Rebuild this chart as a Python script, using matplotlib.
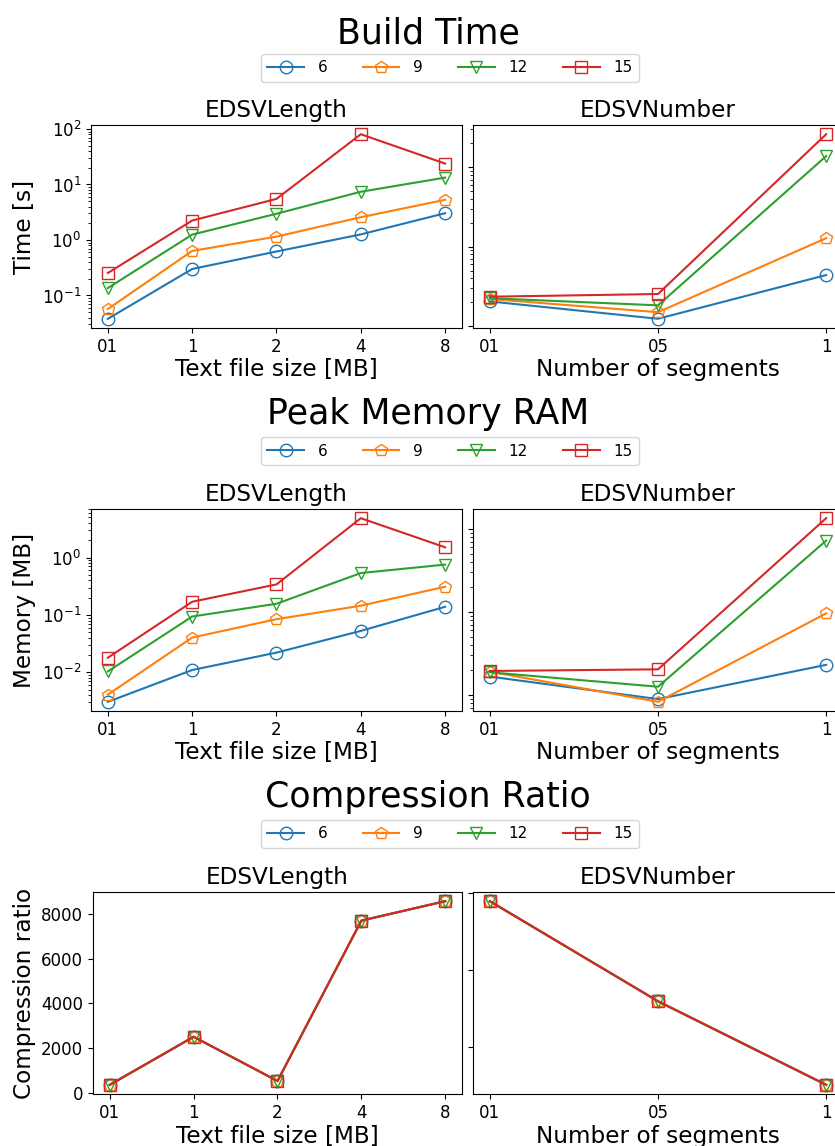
import numpy as np
import matplotlib
matplotlib.use("Agg")
import matplotlib.pyplot as plt
from matplotlib.ticker import MultipleLocator

# x categories
sizes = ['01', '1', '2', '4', '8']
segments = ['01', '05', '1']
params = ['6', '9', '12', '15']
markers = ['o', 'p', 'v', 's']
colors = ['tab:blue', 'tab:orange', 'tab:green', 'tab:red']

# build time [s], one row per parameter
time_len = [
    [0.038, 0.30, 0.62, 1.26, 3.04],
    [0.057, 0.635, 1.15, 2.57, 5.3],
    [0.136, 1.25, 2.97, 7.4, 13.3],
    [0.254, 2.24, 5.5, 80.5, 23.8],
]
time_seg = [
    [0.205, 0.124, 0.44],
    [0.22, 0.150, 1.28],
    [0.225, 0.183, 13.8],
    [0.235, 0.254, 26.0],
]

# peak memory [MB]
mem_len = [
    [0.00307, 0.0110, 0.0221, 0.0528, 0.139],
    [0.0041, 0.0404, 0.0845, 0.145, 0.311],
    [0.0104, 0.094, 0.157, 0.538, 0.755],
    [0.018, 0.170, 0.341, 4.86, 1.51],
]
mem_seg = [
    [0.0167, 0.00895, 0.0231],
    [0.0191, 0.0083, 0.096],
    [0.0188, 0.0126, 0.72],
    [0.0195, 0.0204, 1.34],
]

# compression ratio (same for every parameter)
comp_len = [350, 2500, 520, 7700, 8570]
comp_seg = [5780, 3180, 1010]

W, H = 835, 1146
fig = plt.figure(figsize=(W / 100, H / 100), dpi=100)


def rect(x0, y0, x1, y1):
    return [x0 / W, 1 - y1 / H, (x1 - x0) / W, (y1 - y0) / H]


rows = [
    ("Build Time", 33, 68, 125, 328, 91, time_len, time_seg, 'Time [s]', True),
    ("Peak Memory RAM", 414, 451, 509, 711, 91, mem_len, mem_seg, 'Memory [MB]', True),
    ("Compression Ratio", 797, 834, 892, 1094, 93, None, None, 'Compression ratio', False),
]

for title, ty, ly, top, bot, lx, left_data, right_data, ylabel, logy in rows:
    ax1 = fig.add_axes(rect(lx, top, 462, bot))
    ax2 = fig.add_axes(rect(473, top, 843, bot))
    handles = []
    for i in range(len(params)):
        if left_data is None:
            yl, yr = comp_len, comp_seg
        else:
            yl, yr = left_data[i], right_data[i]
        h, = ax1.plot(range(len(sizes)), yl, marker=markers[i], color=colors[i],
                      markerfacecolor='none', markersize=9, label=params[i])
        ax2.plot(range(len(segments)), yr, marker=markers[i], color=colors[i],
                 markerfacecolor='none', markersize=9)
        handles.append(h)
    if logy:
        ax1.set_yscale('log')
        ax2.set_yscale('log')
    else:
        ax2.yaxis.set_major_locator(MultipleLocator(2000))
    ax1.set_xticks(range(len(sizes)), sizes)
    ax2.set_xticks(range(len(segments)), segments)
    ax2.tick_params(axis='y', which='both', labelleft=False)
    for ax in (ax1, ax2):
        ax.tick_params(labelsize=12)
    ax1.set_title('EDSVLength', fontsize=16.7)
    ax2.set_title('EDSVNumber', fontsize=16.7)
    ax1.set_xlabel('Text file size [MB]', fontsize=16.7, labelpad=2)
    ax2.set_xlabel('Number of segments', fontsize=16.7, labelpad=2)
    ax1.set_ylabel(ylabel, fontsize=16.7)

    fig.text(428 / W, 1 - ty / H, title, fontsize=25, ha='center', va='center')
    fig.legend(handles, params, loc='center', bbox_to_anchor=(450 / W, 1 - ly / H),
               ncol=4, fontsize=11, handlelength=2.4, columnspacing=2.3,
               handletextpad=0.9)

fig.savefig('out.png', dpi=100)
